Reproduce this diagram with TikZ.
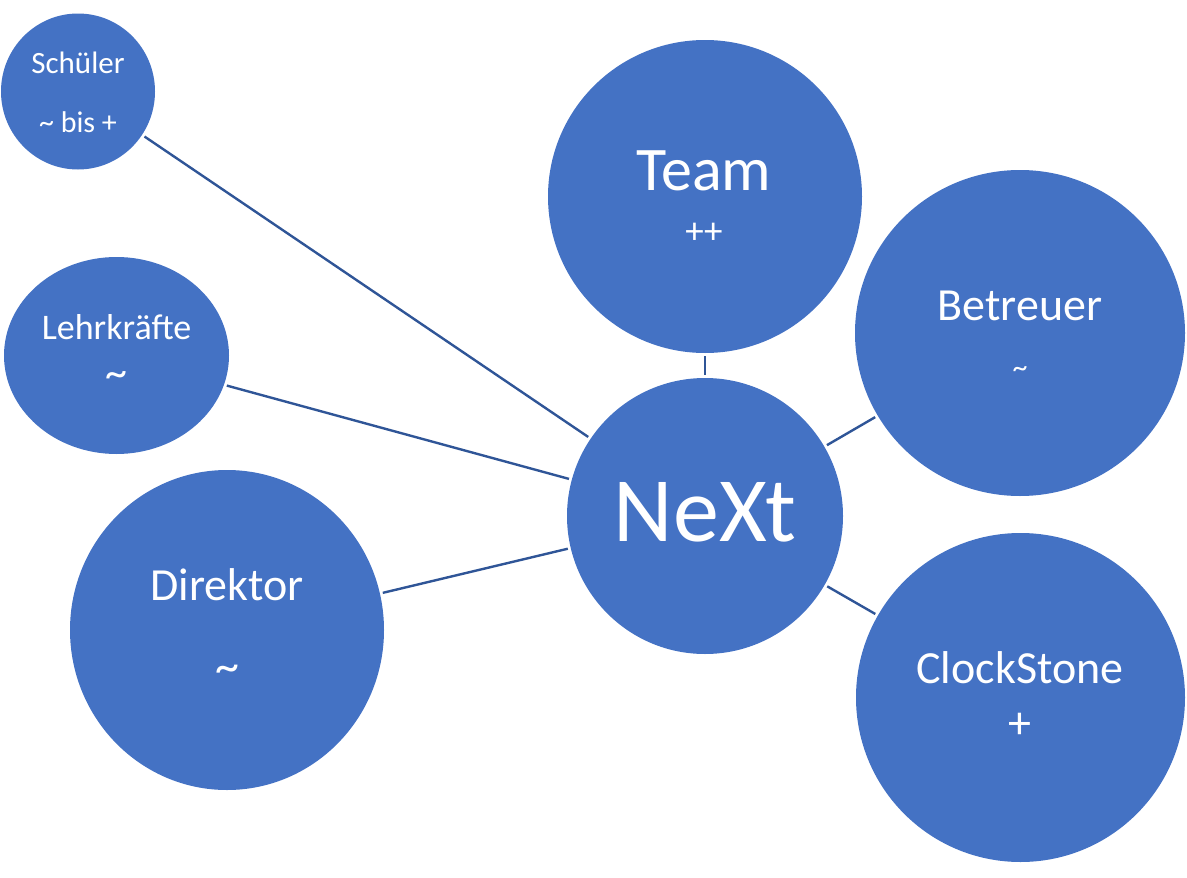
\documentclass[tikz,border=0pt]{standalone}
\usepackage{fontspec}
\setmainfont{Carlito}
\usetikzlibrary{shapes.geometric}
\definecolor{bubblefill}{HTML}{4472C4}
\definecolor{edgeline}{HTML}{2F5597}

\begin{document}
\begin{tikzpicture}
  [x=1pt,y=-1pt,
   bubble/.style={ellipse,fill=bubblefill,draw=none,inner sep=0pt,outer sep=3pt},
   txt/.style={anchor=base,inner sep=0pt,text=white},
   edge/.style={draw=edgeline,line width=2.4pt}]
  \useasboundingbox (0,0) rectangle (1187,878);

  \node[bubble,minimum width=154,minimum height=156] (schueler) at (78,91.5) {};
  \node[bubble,minimum width=314,minimum height=313] (team) at (705,196.5) {};
  \node[bubble,minimum width=225,minimum height=197] (lehr) at (116.5,355.5) {};
  \node[bubble,minimum width=330,minimum height=326] (betreuer) at (1020,333) {};
  \node[bubble,minimum width=276,minimum height=276] (next) at (705,516) {};
  \node[bubble,minimum width=314,minimum height=320] (direktor) at (227,630) {};
  \node[bubble,minimum width=329,minimum height=329] (clock) at (1020.5,697.5) {};

  \foreach \from/\to in {schueler/next,lehr/next,direktor/next,team/next,betreuer/next,clock/next}
    \draw[edge] (\from) -- (\to);

  % texts
  \node[txt,font=\fontsize{31}{31}\selectfont] (schueler-a) at (78,73) {Schüler};
  \node[txt,font=\fontsize{30}{30}\selectfont] (schueler-b) at (78,132) {\char`\~{} bis +};
  \node[txt,font=\fontsize{62}{62}\selectfont] (team-a) at (704,190) {Team};
  \node[txt,font=\fontsize{37}{37}\selectfont] (team-b) at (704,243) {++};
  \node[txt,font=\fontsize{36}{36}\selectfont] (lehr-a) at (116.5,339) {Lehrkräfte};
  \node[txt,font=\fontsize{44}{44}\selectfont] (lehr-b) at (116.5,387) {\char`\~};
  \node[txt,font=\fontsize{46}{46}\selectfont] (betreuer-a) at (1020,320) {Betreuer};
  \node[txt,font=\fontsize{30}{30}\selectfont] (betreuer-b) at (1020,377) {\char`\~};
  \node[txt,font=\fontsize{92}{92}\selectfont] (next-a) at (705,541) {NeXt};
  \node[txt,font=\fontsize{46}{46}\selectfont] (direktor-a) at (227,600) {Direktor};
  \node[txt,font=\fontsize{48}{48}\selectfont] (direktor-b) at (227,682) {\char`\~};
  \node[txt,font=\fontsize{46}{46}\selectfont] (clock-a) at (1020,683) {ClockStone};
  \node[txt,font=\fontsize{46}{46}\selectfont] (clock-b) at (1020,738) {+};

\end{tikzpicture}
\end{document}
